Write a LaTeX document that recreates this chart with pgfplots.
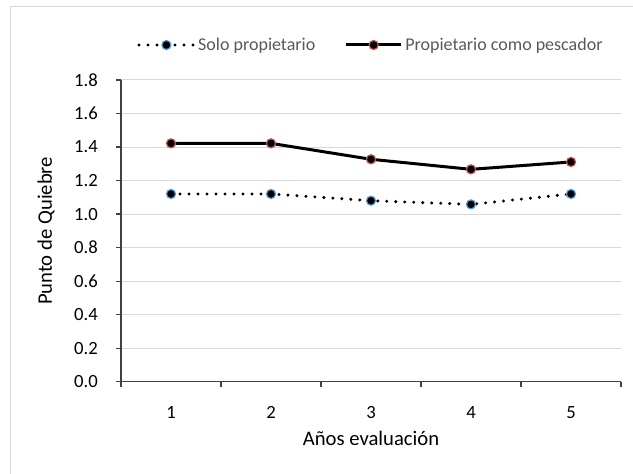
\documentclass[border=0pt]{standalone}
\usepackage{fontspec}
\setmainfont{Carlito}
\usepackage{pgfplots}
\pgfplotsset{compat=1.18}

\definecolor{gridgray}{HTML}{D9D9D9}
\definecolor{framegray}{HTML}{D9D9D9}
\definecolor{axisgray}{HTML}{404040}
\definecolor{textgray}{HTML}{595959}
\definecolor{ringblue}{HTML}{5B9BD5}
\definecolor{ringred}{HTML}{C85050}

\begin{document}
\begin{tikzpicture}
% page extent and the chart frame
\path (0,0) rectangle (474.75pt,355.5pt);
\draw[framegray, line width=0.75pt, overlay] (7.5pt,-20pt) -- (7.5pt,350.25pt) -- (500pt,350.25pt);
\begin{axis}[
  at={(90.75pt,69.2pt)}, anchor=origin,
  scale only axis, width=375pt, height=226.3pt,
  font=\fontsize{15.5}{18.6}\selectfont,
  tick label style={font=\fontsize{14}{16.8}\selectfont},
  /pgf/number format/assume math mode=true,
  xmin=0.5, xmax=5.5, ymin=0, ymax=1.8,
  axis x line*=bottom, axis y line*=left,
  axis line style={axisgray, line width=0.9pt},
  xtick={1,2,3,4,5},
  minor xtick={0.5,1.5,2.5,3.5,4.5,5.5},
  ytick={0,0.2,...,1.8},
  yticklabel style={/pgf/number format/fixed, /pgf/number format/fixed zerofill,
    /pgf/number format/precision=1, inner sep=0pt, anchor=east, xshift=-13.5pt},
  tick align=outside,
  tick style={axisgray, line width=0.9pt},
  major tick length=3.75pt, minor tick length=3.75pt,
  major x tick style={draw=none},
  ymajorgrids, grid style={gridgray, line width=0.75pt},
  xticklabel style={inner sep=0pt, anchor=center, yshift=-19.3pt},
  xlabel={Años evaluación},
  ylabel={Punto de Quiebre},
  every axis x label/.style={at={(axis description cs:0.5,-0.187)}, anchor=center},
  every axis y label/.style={at={(axis description cs:-0.15,0.5)}, rotate=90, anchor=center},
  legend columns=2,
  legend cell align=left,
  legend style={at={(axis description cs:0.032,1.116)}, anchor=west, draw=none, fill=none,
    inner sep=0pt, text=textgray, font=\fontsize{13.5}{16.2}\selectfont,
    /tikz/every even column/.append style={column sep=20pt}},
  legend image code/.code={\draw[mark repeat=2, mark phase=2] plot coordinates {(0pt,0pt) (20.6pt,0pt) (41.2pt,0pt)};},
]
\addplot[black, line width=2.5pt, dash pattern=on 0pt off 6.75pt, line cap=round,
  mark=*, mark size=3.4pt, mark options={solid, fill=black, draw=ringblue, line width=0.9pt}]
  coordinates {(1,1.12) (2,1.12) (3,1.08) (4,1.058) (5,1.12)};
\addlegendentry{Solo propietario}
\addplot[black, line width=2.25pt,
  mark=*, mark size=3.4pt, mark options={solid, fill=black, draw=ringred, line width=0.9pt}]
  coordinates {(1,1.422) (2,1.422) (3,1.327) (4,1.267) (5,1.311)};
\addlegendentry{Propietario como pescador}
\end{axis}
\end{tikzpicture}
\end{document}
